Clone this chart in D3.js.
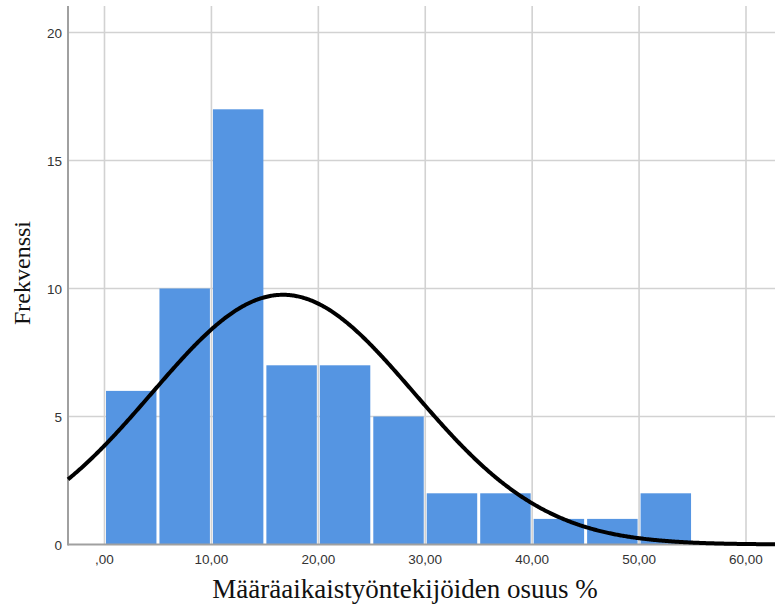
<!DOCTYPE html>
<html><head><meta charset="utf-8">
<script src="https://cdn.jsdelivr.net/npm/d3@7"></script>
<style>body{margin:0;background:#fff}</style>
</head><body>
<script>
const binStarts = [0,5,10,15,20,25,30,35,40,45,50];
const binWidth = 5;
const counts = [6,10,17,7,7,5,2,2,1,1,2];
const xTicks = [0,10,20,30,40,50,60];
const xTickLabels = [",00","10,00","20,00","30,00","40,00","50,00","60,00"];
const yTicks = [0,5,10,15,20];
const fitMean = 16.7;
const fitSd = 12.27;
const fitN = 60;

(function(){
const W=775,H=606;
const svg=d3.select("body").append("svg").attr("width",W).attr("height",H);
const x=d3.scaleLinear().domain([0,60]).range([104.5,746]);
const y=d3.scaleLinear().domain([0,20]).range([544.5,32.5]);
const pLeft=68, pRight=775, pTop=6, pBottom=544.5;

// gridlines
svg.append("g").selectAll("line").data(yTicks.filter(d=>d>0)).join("line")
 .attr("x1",pLeft).attr("x2",pRight).attr("y1",d=>y(d)).attr("y2",d=>y(d))
 .attr("stroke","#d2d2d2").attr("stroke-width",1.6);
svg.append("g").selectAll("line").data(xTicks).join("line")
 .attr("x1",d=>x(d)).attr("x2",d=>x(d)).attr("y1",pTop).attr("y2",pBottom)
 .attr("stroke","#d2d2d2").attr("stroke-width",1.6);

// bars
svg.append("g").selectAll("rect").data(counts).join("rect")
 .attr("x",(d,i)=>x(binStarts[i])+1.5)
 .attr("width",(d,i)=>x(binStarts[i]+binWidth)-x(binStarts[i])-3)
 .attr("y",d=>y(d)).attr("height",d=>pBottom-y(d))
 .attr("fill","#5595e2");

// axes lines
svg.append("line").attr("x1",pLeft).attr("x2",pLeft).attr("y1",pTop).attr("y2",pBottom+1)
 .attr("stroke","#a0a0a0").attr("stroke-width",2);
svg.append("line").attr("x1",pLeft).attr("x2",pRight).attr("y1",pBottom).attr("y2",pBottom)
 .attr("stroke","#a0a0a0").attr("stroke-width",2);

// normal curve
const xs=d3.range(x.invert(pLeft),x.invert(pRight)+0.1,0.1);
const pdf=v=>fitN*binWidth/(fitSd*Math.sqrt(2*Math.PI))*Math.exp(-0.5*((v-fitMean)/fitSd)**2);
svg.append("path").datum(xs)
 .attr("d",d3.line().x(d=>x(d)).y(d=>y(pdf(d))))
 .attr("fill","none").attr("stroke","#000").attr("stroke-width",4);

// tick labels
svg.append("g").selectAll("text").data(yTicks).join("text")
 .attr("x",62).attr("y",d=>y(d)+5).attr("text-anchor","end")
 .attr("font-family","Liberation Sans, Arial, sans-serif").attr("font-size",13.5).attr("fill","#333")
 .text(d=>d);
svg.append("g").selectAll("text").data(xTicks).join("text")
 .attr("x",d=>x(d)).attr("y",564).attr("text-anchor","middle")
 .attr("font-family","Liberation Sans, Arial, sans-serif").attr("font-size",13.5).attr("fill","#333")
 .text((d,i)=>xTickLabels[i]);

// axis titles
svg.append("text").attr("x",405).attr("y",598).attr("text-anchor","middle")
 .attr("font-family","Liberation Serif, Times New Roman, serif").attr("font-size",27).attr("fill","#111")
 .text("Määräaikaistyöntekijöiden osuus %");
svg.append("text").attr("transform","translate(30,273) rotate(-90)").attr("text-anchor","middle")
 .attr("font-family","Liberation Serif, Times New Roman, serif").attr("font-size",24).attr("fill","#111")
 .text("Frekvenssi");
})();
</script>
</body></html>
